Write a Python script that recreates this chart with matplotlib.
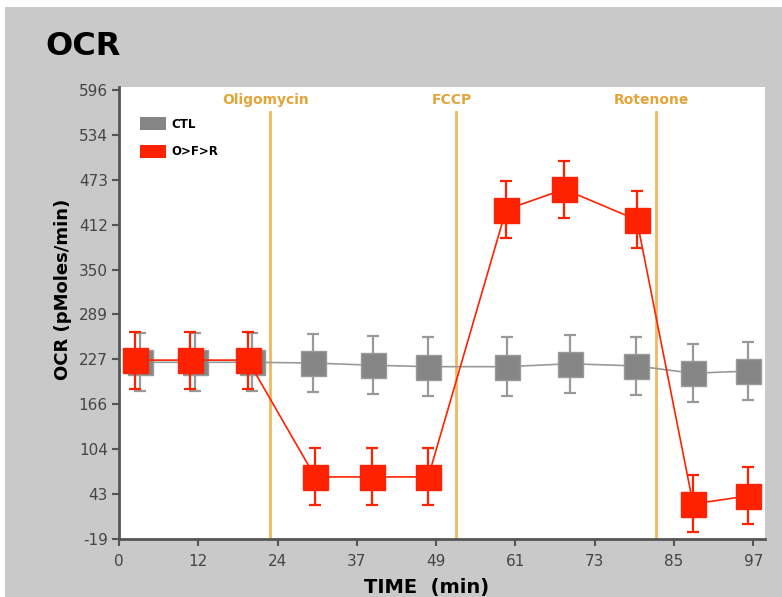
import matplotlib
matplotlib.use("Agg")
import matplotlib.pyplot as plt
from matplotlib.patches import Patch, Rectangle
import numpy as np

# data
ctl_time = [3.2, 11.6, 20.4, 29.6, 38.8, 47.3, 59.3, 69.0, 79.1, 87.8, 96.2]
ctl_ocr = [223, 223, 223, 222, 219, 217, 217, 221, 218, 208, 211]
ctl_err = [40, 40, 40, 40, 40, 40, 40, 40, 40, 40, 40]

ofr_time = [2.4, 10.8, 19.7, 30.0, 38.7, 47.3, 59.2, 68.1, 79.2, 87.8, 96.2]
ofr_ocr = [226, 226, 226, 66, 66, 66, 432, 460, 418, 29, 40]
ofr_err = [39, 39, 39, 39, 39, 39, 39, 39, 39, 39, 39]

injections = ["Oligomycin", "FCCP", "Rotenone"]
inject_time = [23.1, 51.5, 82.1]

yticks = np.linspace(-19, 596, 11)
ytick_labels = ["-19", "43", "104", "166", "227", "289", "350", "412", "473", "534", "596"]
xticks = np.linspace(0, 97, 9)
xtick_labels = ["0", "12", "24", "37", "49", "61", "73", "85", "97"]

grey = "#858585"
red = "#ff2200"
orange = "#f0b860"

fig = plt.figure(figsize=(7.82, 5.97), dpi=100, facecolor="white")
fig.patches.append(Rectangle((5 / 782, 0), 1, 1 - 7 / 597, transform=fig.transFigure,
                             facecolor="#c9c9c9", edgecolor="none", zorder=-10))

ax = fig.add_axes([119 / 782, 58 / 597, 646 / 782, 452 / 597])
ax.set_facecolor("white")

for t in inject_time:
    ax.axvline(t, ymin=0, ymax=0.945, color=orange, lw=2, zorder=1)
for name, t in zip(injections, inject_time):
    ax.text(t - 0.6, 0.972, name, transform=ax.get_xaxis_transform(), ha="center", va="center",
            fontsize=10, fontweight="bold", color="#e3a43a")

ax.errorbar(ctl_time, ctl_ocr, yerr=ctl_err, color="#999999", ecolor="#999999", elinewidth=1.6,
            capsize=4, capthick=1.6, lw=1.2, marker="s", markersize=18, mfc=grey, mec="#9a9a9a",
            zorder=2)
ax.errorbar(ofr_time, ofr_ocr, yerr=ofr_err, color=red, ecolor=red, elinewidth=1.6,
            capsize=4, capthick=1.6, lw=1.2, marker="s", markersize=18, mfc=red, mec=red,
            zorder=3)

ax.set_xlim(0, 98.8)
ax.set_ylim(-19, 600)
ax.set_xticks(xticks)
ax.set_xticklabels(xtick_labels)
ax.set_yticks(yticks)
ax.set_yticklabels(ytick_labels)
ax.tick_params(labelsize=11, colors="#555555", labelcolor="#444444", length=5, width=1.5, pad=3)
ax.tick_params(axis="x", pad=6)
for s in ["top", "right"]:
    ax.spines[s].set_visible(False)
for s in ["left", "bottom"]:
    ax.spines[s].set_color("#555555")
    ax.spines[s].set_linewidth(2)

handles = [Patch(facecolor=grey, edgecolor="none", label="CTL"),
           Patch(facecolor=red, edgecolor="none", label="O>F>R")]
leg = ax.legend(handles=handles, loc="upper left", bbox_to_anchor=(0.033, 0.934), frameon=False,
                borderaxespad=0, borderpad=0, handlelength=2.2, handleheight=1.4,
                labelspacing=1.2, handletextpad=0.45, prop={"size": 8.5, "weight": "bold"})

fig.text(45 / 782, 1 - 55 / 597, "OCR", fontsize=23, fontweight="bold", color="black")
fig.text(63 / 782, 1 - 289 / 597, "OCR (pMoles/min)", rotation=90, ha="center", va="center",
         fontsize=13, fontweight="bold", color="black")
fig.text(427 / 782, 1 - 593 / 597, "TIME  (min)", ha="center", va="baseline",
         fontsize=14, fontweight="bold", color="black")

fig.savefig("out.png", dpi=100, facecolor=fig.get_facecolor())
